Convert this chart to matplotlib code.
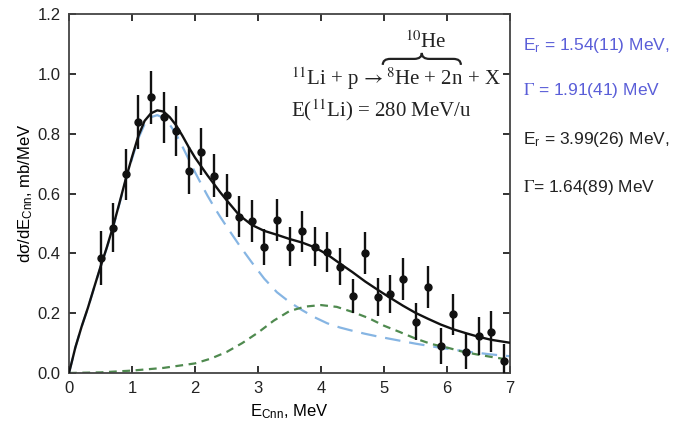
import matplotlib
matplotlib.use('Agg')
from matplotlib import pyplot as plt
from matplotlib.path import Path
from matplotlib.patches import PathPatch

plt.rcParams['font.family'] = ['Liberation Sans', 'DejaVu Sans']
plt.rcParams['mathtext.fontset'] = 'custom'
plt.rcParams['mathtext.rm'] = 'Liberation Sans'
plt.rcParams['mathtext.it'] = 'Liberation Sans:italic'
plt.rcParams['mathtext.bf'] = 'Liberation Sans:bold'

# measured spectrum (E_Cnn, MeV) with errors
e_data = [0.5, 0.7, 0.9, 1.1, 1.3, 1.5, 1.7, 1.9, 2.1, 2.3, 2.5, 2.7, 2.9,
          3.1, 3.3, 3.5, 3.7, 3.9, 4.1, 4.3, 4.5, 4.7, 4.9, 5.1, 5.3, 5.5,
          5.7, 5.9, 6.1, 6.3, 6.5, 6.7, 6.9]
sigma_data = [0.384, 0.486, 0.664, 0.838, 0.921, 0.855, 0.810, 0.676, 0.740,
              0.660, 0.594, 0.523, 0.509, 0.422, 0.512, 0.422, 0.473, 0.422,
              0.404, 0.355, 0.257, 0.402, 0.255, 0.264, 0.314, 0.172, 0.287,
              0.090, 0.196, 0.071, 0.124, 0.138, 0.041]
sigma_err = [0.090, 0.082, 0.086, 0.090, 0.088, 0.085, 0.083, 0.078, 0.079,
             0.071, 0.072, 0.070, 0.070, 0.061, 0.071, 0.065, 0.068, 0.065,
             0.067, 0.062, 0.058, 0.070, 0.063, 0.065, 0.070, 0.061, 0.071,
             0.060, 0.068, 0.058, 0.063, 0.068, 0.056]

# total fit
e_fit = [0.0, 0.05, 0.1, 0.2, 0.3, 0.4, 0.5, 0.6, 0.7, 0.8, 0.9, 1.0, 1.1,
         1.2, 1.3, 1.4, 1.5, 1.6, 1.7, 1.8, 1.9, 2.0, 2.1, 2.2, 2.3, 2.4,
         2.5, 2.7, 2.9, 3.1, 3.3, 3.5, 3.7, 3.9, 4.1, 4.3, 4.5, 4.7, 4.9,
         5.1, 5.3, 5.5, 5.7, 5.9, 6.1, 6.3, 6.5, 6.7, 7.0]
total_fit = [0.0, 0.042, 0.085, 0.155, 0.218, 0.287, 0.355, 0.420, 0.490,
             0.568, 0.648, 0.722, 0.792, 0.843, 0.868, 0.878, 0.874, 0.855,
             0.828, 0.793, 0.755, 0.720, 0.690, 0.660, 0.632, 0.604, 0.578,
             0.528, 0.495, 0.475, 0.462, 0.448, 0.436, 0.420, 0.396, 0.366,
             0.337, 0.306, 0.278, 0.251, 0.225, 0.201, 0.181, 0.162, 0.146,
             0.133, 0.121, 0.111, 0.101]
# first resonance, E_r = 1.54 MeV
res1_fit = [0.0, 0.042, 0.085, 0.155, 0.217, 0.286, 0.354, 0.418, 0.487,
            0.565, 0.644, 0.716, 0.784, 0.832, 0.855, 0.862, 0.853, 0.830,
            0.798, 0.757, 0.714, 0.671, 0.631, 0.592, 0.556, 0.522, 0.490,
            0.428, 0.370, 0.315, 0.270, 0.237, 0.210, 0.186, 0.166, 0.152,
            0.141, 0.131, 0.122, 0.114, 0.106, 0.098, 0.091, 0.084, 0.078,
            0.072, 0.067, 0.062, 0.056]
# second resonance, E_r = 3.99 MeV
e_res2 = [0.0, 0.5, 1.0, 1.5, 2.0, 2.25, 2.5, 2.75, 3.0, 3.25, 3.5, 3.75, 4.0,
          4.25, 4.5, 4.75, 5.0, 5.25, 5.5, 5.75, 6.0, 6.25, 6.5, 6.75, 7.0]
res2_fit = [0.0, 0.002, 0.008, 0.017, 0.032, 0.048, 0.070, 0.100, 0.135,
            0.175, 0.207, 0.222, 0.227, 0.221, 0.204, 0.184, 0.158, 0.137,
            0.115, 0.097, 0.085, 0.071, 0.061, 0.052, 0.044]

x_ticks = [0, 1, 2, 3, 4, 5, 6, 7]
y_ticks = [0.0, 0.2, 0.4, 0.6, 0.8, 1.0, 1.2]


def draw_brace(ax, x0, x1, y0, h, d):
    # curly brace opening downwards, tip at the top centre
    xm = (x0 + x1) / 2
    ym = y0 + h / 2
    verts = [(x0, y0), (x0, ym), (x0 + d, ym),
             (xm - d, ym),
             (xm, ym), (xm, y0 + h),
             (xm, ym), (xm + d, ym),
             (x1 - d, ym),
             (x1, ym), (x1, y0)]
    codes = [Path.MOVETO, Path.CURVE3, Path.CURVE3,
             Path.LINETO,
             Path.CURVE3, Path.CURVE3,
             Path.CURVE3, Path.CURVE3,
             Path.LINETO,
             Path.CURVE3, Path.CURVE3]
    ax.add_patch(PathPatch(Path(verts, codes), fill=False, lw=1.6,
                           edgecolor='#222222', clip_on=False))


fig = plt.figure(figsize=(6.74, 4.25), dpi=100)
ax = fig.add_axes([0.1024, 0.1224, 0.6543, 0.8446])

ax.plot(e_fit, res1_fit, color='#86b5e3', lw=1.6, dashes=(7, 4), zorder=2)
ax.plot(e_res2, res2_fit, color='#4f8a4f', lw=1.6, dashes=(3.5, 2.5), zorder=2)
ax.plot(e_fit, total_fit, color='#111111', lw=1.7, zorder=3)
ax.errorbar(e_data, sigma_data, yerr=sigma_err, fmt='o', color='#111111',
            ms=5, elinewidth=1.7, capsize=0, zorder=4)

ax.set_xlim(0, 7)
ax.set_ylim(0, 1.2)
ax.set_xticks(x_ticks)
ax.set_xticklabels([str(t) for t in x_ticks])
ax.set_yticks(y_ticks)
ax.set_yticklabels(['%.1f' % t for t in y_ticks])
ax.tick_params(direction='in', length=5, width=1.3, top=True, right=True,
               labelsize=12, colors='#222222', pad=6)
for spine in ax.spines.values():
    spine.set_linewidth(1.3)
    spine.set_color('#444444')

ax.set_xlabel(r'E$_{\rm Cnn}$, MeV', fontsize=12, labelpad=4)
ax.set_ylabel(r'dσ/dE$_{\rm Cnn}$, mb/MeV', fontsize=12, labelpad=2)

# reaction annotation
serif = ['Liberation Serif', 'DejaVu Serif']
ax.text(3.53, 0.985, r'$^{11}$Li + p$\,\rightarrow^{8}$He + 2n + X',
        family=serif, math_fontfamily='stix', fontsize=15, va='center',
        ha='left', color='#222222')
ax.text(3.53, 0.878, r'E($^{11}$Li) = 280 MeV/u',
        family=serif, math_fontfamily='stix', fontsize=15, va='center',
        ha='left', color='#222222')
ax.text(5.66, 1.105, r'$^{10}$He', family=serif, math_fontfamily='stix',
        fontsize=15, va='center', ha='center', color='#222222')
draw_brace(ax, 4.98, 6.22, 1.030, 0.040, 0.12)

# resonance parameters
fig.text(0.776, 0.894, r'E$_{\rm r}$ = 1.54(11) MeV,', fontsize=12.5,
         color='#5a5ed8', va='center')
fig.text(0.776, 0.788, r'$\Gamma$ = 1.91(41) MeV', fontsize=12.5,
         color='#5a5ed8', va='center', math_fontfamily='stix')
fig.text(0.776, 0.671, r'E$_{\rm r}$ = 3.99(26) MeV,', fontsize=12.5,
         color='#222222', va='center')
fig.text(0.776, 0.558, r'$\Gamma$= 1.64(89) MeV', fontsize=12.5,
         color='#222222', va='center', math_fontfamily='stix')

plt.savefig('out.png', dpi=100)
